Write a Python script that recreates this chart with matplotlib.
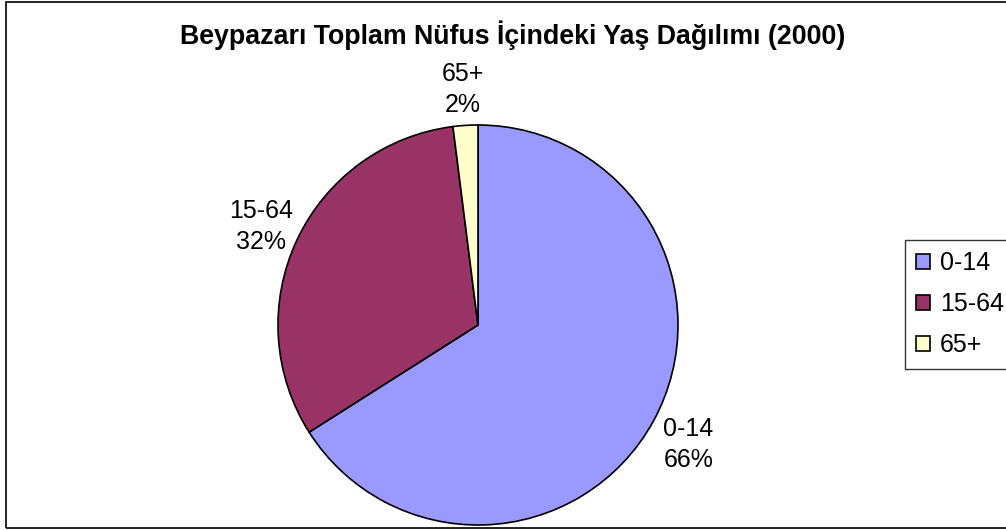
import matplotlib.pyplot as plt
from matplotlib.patches import Rectangle

plt.rcParams['font.family'] = ['Liberation Sans', 'DejaVu Sans']

categories = ['0-14', '15-64', '65+']
shares = [66, 32, 2]
colors = ['#9999FF', '#993366', '#FFFFCC']
title = 'Beypazarı Toplam Nüfus İçindeki Yaş Dağılımı (2000)'

W, H = 1006, 530
fig = plt.figure(figsize=(W / 100, H / 100), dpi=100)

# pie centre (478, 325) px from top-left, radius 200 px
cx, cy, r = 478, 325, 200
ax = fig.add_axes([(cx - r) / W, (H - cy - r) / H, 2 * r / W, 2 * r / H])
wedges, texts = ax.pie(shares, colors=colors, startangle=90, counterclock=False,
                       labels=[f'{c}\n{s}%' for c, s in zip(categories, shares)],
                       labeldistance=1.2,
                       wedgeprops=dict(edgecolor='black', linewidth=1.2),
                       textprops=dict(fontsize=18, linespacing=1.35))
for t in texts:
    t.set_ha('center')
    t.set_va('center')
    x, y = t.get_position()
    t.set_position((x, y - 0.02))  # excel labels sit a touch lower
ax.set_xlim(-1, 1)
ax.set_ylim(-1, 1)
ax.set_aspect('equal')

fig.text(513 / W, 1 - 44 / H, title, ha='center', va='baseline', fontsize=19.3,
         fontweight='bold')

leg = fig.legend(wedges, categories, loc='upper left',
                 bbox_to_anchor=(905 / W, 1 - 240 / H), borderaxespad=0,
                 fontsize=18, frameon=True, fancybox=False,
                 handlelength=0.55, handleheight=0.55, handletextpad=0.4,
                 labelspacing=0.68, borderpad=0.45)
leg.get_frame().set_edgecolor('black')
leg.get_frame().set_linewidth(1.0)

# outer chart border
fig.patches.append(Rectangle((6 / W, 2 / H), 1.2, 526 / H, transform=fig.transFigure,
                             fill=False, edgecolor='black', linewidth=1.2))

fig.savefig('out.png', dpi=100)
